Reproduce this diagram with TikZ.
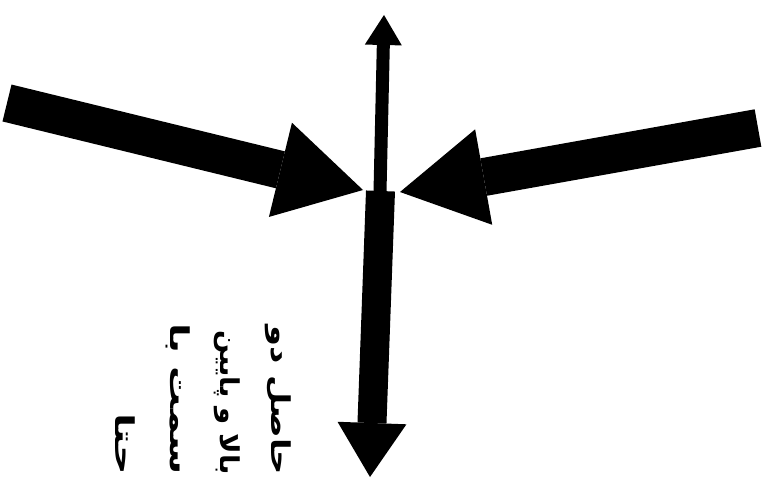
\documentclass[tikz,border=0pt]{standalone}
\usepackage{graphicx}
\usepackage{fontspec}
\newfontfamily\arabicfont[Script=Arabic]{DejaVu Sans}
\TeXXeTstate=1
\usetikzlibrary{arrows.meta}
\tikzset{
  fatarrow/.style={line width=38pt, -{Triangle[length=85pt,width=97pt,line width=0pt]}},
  downarrow/.style={line width=29pt, -{Triangle[length=54pt,width=69pt,line width=0pt]}},
  uparrow/.style={line width=13pt, -{Triangle[length=30pt,width=37pt,line width=0pt]}},
  farsi/.style={font=\arabicfont\bfseries\fontsize{26}{26}\selectfont, rotate=-90, anchor=west, inner sep=0pt}
}

\begin{document}
\begin{tikzpicture}[x=1pt, y=-1pt]
    \clip (0,0) rectangle (764,479);
    \coordinate (w0) at (7,103);
    \coordinate (w1) at (363,190);
    \coordinate (e0) at (758,128);
    \coordinate (e1) at (400,192);
    \coordinate (s0) at (380.5,191);
    \coordinate (s1) at (370,477);
    \coordinate (n0) at (380,192);
    \coordinate (n1) at (384,15);
    \draw[uparrow] (n0) -- (n1);
    \draw[downarrow] (s0) -- (s1);
    \draw[fatarrow] (w0) -- (w1);
    \draw[fatarrow] (e0) -- (e1);
    \node[farsi] (l1) at (278,325) {\resizebox{150pt}{\height}{\beginR حاصل دو\endR}};
    \node[farsi] (l2) at (227,330) {\resizebox{145pt}{\height}{\beginR بالا و پایین\endR}};
    \node[farsi] (l3) at (178,323) {\resizebox{152pt}{\height}{\beginR سمت با\endR}};
    \node[farsi] (l4) at (125,413) {\resizebox{62pt}{\height}{\beginR حتا\endR}};
  \end{tikzpicture}
\end{document}
